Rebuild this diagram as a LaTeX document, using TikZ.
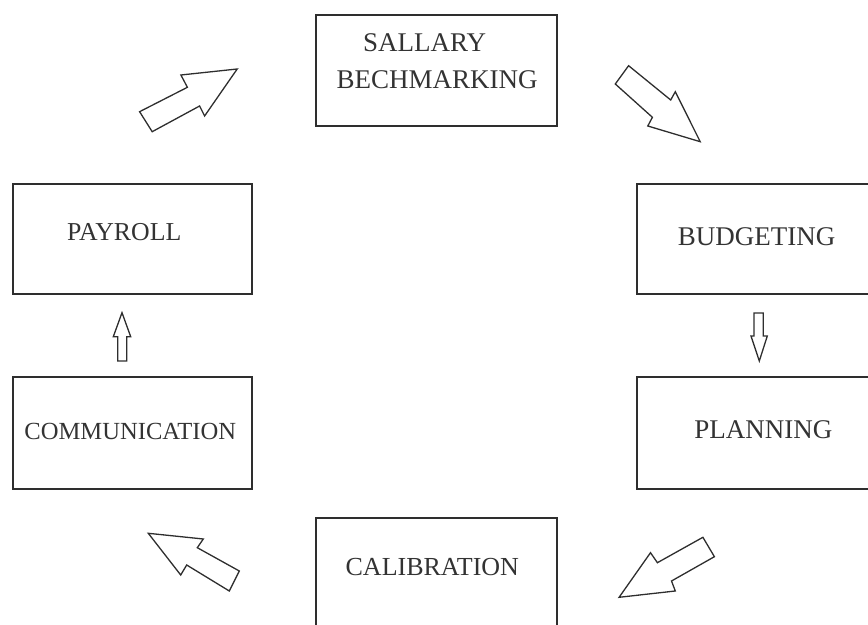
\documentclass[tikz,border=0pt]{standalone}
\usepackage{fontspec}
\setmainfont{Liberation Serif}
\definecolor{linegray}{HTML}{2E2E2E}
\definecolor{textgray}{HTML}{333333}
\begin{document}
\begin{tikzpicture}%
	[x=0.5pt, y=-0.5pt,
	box/.style={draw=linegray, line width=1pt, inner sep=0pt, minimum width=120.5pt, minimum height=55.5pt},
	label/.style={inner sep=0pt, text=textgray, font=\fontsize{13.5pt}{18pt}\selectfont},
	blockarrow/.style={draw=linegray, line width=0.65pt, line join=miter}]
%
\useasboundingbox (0,0) rectangle (868,625);
\clip (0,0) rectangle (868,625);
%
%% Boxes
%%
\node[box] (sallary) at (436.2,70.5) {};
\node[box, minimum width=119.5pt, minimum height=55.2pt] (payroll) at (132.2,239.2) {};
\node[box, minimum width=119.5pt, minimum height=56.2pt] (communication) at (132.2,432.9) {};
\node[box, minimum width=125pt, minimum height=55.2pt] (budgeting) at (761.7,239.2) {};
\node[box, minimum width=125pt, minimum height=56.2pt] (planning) at (761.7,432.9) {};
\node[box, minimum height=65pt] (calibration) at (436.2,583.3) {};
%%
%% Labels
%%
\node[label] (sallary-a) at (424.7,43) {SALLARY};
\node[label] (sallary-b) at (437.1,80) {BECHMARKING};
\node[label, font=\fontsize{12.9pt}{18pt}\selectfont] (payroll-t) at (124.2,231.7) {PAYROLL};
\node[label, font=\fontsize{12.3pt}{18pt}\selectfont] (communication-t) at (130.3,431.7) {COMMUNICATION};
\node[label] (budgeting-t) at (756.7,236.7) {BUDGETING};
\node[label] (planning-t) at (763.3,430) {PLANNING};
\node[label, font=\fontsize{13pt}{18pt}\selectfont] (calibration-t) at (432.3,566.7) {CALIBRATION};
%%
%% Block arrows
%%
\draw[blockarrow] (139.6,111.7) -- (187.4,87.3) -- (180.9,75) -- (237.2,69) -- (204.6,116) -- (199.6,106) -- (152.2,131.7) -- cycle;
\draw[blockarrow] (615.3,84) -- (628.6,65.7) -- (670.7,100) -- (675.3,91.7) -- (700.2,141.7) -- (647.8,126) -- (652.4,117.3) -- cycle;
\draw[blockarrow] (754,313) -- (763.3,313) -- (763.3,336) -- (767.3,336) -- (759.3,361) -- (751,336) -- (754,336) -- cycle;
\draw[blockarrow] (702.9,537.3) -- (714.4,556.7) -- (671.5,581) -- (675.3,591) -- (619.1,597.3) -- (650.5,552.7) -- (657.4,562.7) -- cycle;
\draw[blockarrow] (148.3,533.3) -- (203.3,539) -- (197.3,547.7) -- (239.3,571) -- (229.3,591) -- (186.7,565) -- (180.7,575) -- cycle;
\draw[blockarrow] (117.7,361) -- (117.7,336.7) -- (113.3,336.7) -- (122,312.7) -- (130.7,336.7) -- (126.7,336.7) -- (126.7,361) -- cycle;
%%
\end{tikzpicture}
\end{document}
